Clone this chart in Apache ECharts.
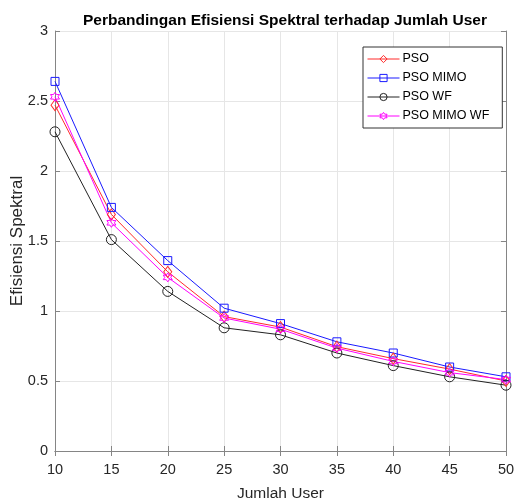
<!DOCTYPE html>
<html>
<head>
<meta charset="utf-8">
<script src="https://cdn.jsdelivr.net/npm/echarts@6/dist/echarts.min.js"></script>
<style>
  html, body { margin: 0; padding: 0; background: #fff; }
  #chart { width: 514px; height: 504px; }
</style>
</head>
<body>
<div id="chart"></div>
<script>
// data
var users = [10, 15, 20, 25, 30, 35, 40, 45, 50];
var pso = [2.47, 1.69, 1.28, 0.96, 0.885, 0.745, 0.66, 0.585, 0.50];
var psoMimo = [2.64, 1.74, 1.36, 1.02, 0.91, 0.78, 0.70, 0.60, 0.53];
var psoWf = [2.28, 1.51, 1.14, 0.88, 0.83, 0.70, 0.61, 0.53, 0.47];
var psoMimoWf = [2.53, 1.63, 1.24, 0.95, 0.87, 0.735, 0.64, 0.56, 0.51];
var seriesNames = ["PSO", "PSO MIMO", "PSO WF", "PSO MIMO WF"];

(function () {
  let mychart = echarts.init(document.getElementById("chart"));
  let font = "Liberation Sans, Arial, sans-serif";
  // bintang enam (hexagram)
  let hexagram = "path://M0,-10L2.887,-5L8.66,-5L5.774,0L8.66,5L2.887,5L0,10L-2.887,5L-8.66,5L-5.774,0L-8.66,-5L-2.887,-5Z";

  function pairs(ys) {
    return users.map(function (x, i) {
      return [x, ys[i]];
    });
  }

  function makeSeries(name, ys, color, symbol, size) {
    return {
      name: name,
      type: "line",
      data: pairs(ys),
      color: color,
      symbol: symbol,
      symbolSize: size,
      showAllSymbol: true,
      lineStyle: { color: color, width: 1 },
      itemStyle: { color: "rgba(255,255,255,0)", borderColor: color, borderWidth: 1 },
      emphasis: { disabled: true },
      animation: false,
    };
  }

  let axisLine = { show: true, lineStyle: { color: "#858585", width: 1 } };
  let tick = { show: true, inside: true, length: 5, lineStyle: { color: "#858585" } };

  let option = {
    backgroundColor: "#fff",
    title: {
      text: "Perbandingan Efisiensi Spektral terhadap Jumlah User",
      left: 280,
      textAlign: "center",
      top: 8,
      textStyle: { fontFamily: font, fontSize: 15.5, fontWeight: "bold", color: "#000" },
    },
    grid: { left: 55, right: 8, top: 31, bottom: 53, outerBoundsMode: "none", containLabel: false },
    legend: {
      orient: "vertical",
      left: 363,
      top: 47,
      itemWidth: 32,
      itemHeight: 9,
      itemGap: 5,
      padding: [5, 13, 5, 4],
      borderColor: "#333",
      borderWidth: 1,
      backgroundColor: "#fff",
      data: seriesNames,
      lineStyle: { width: 1 },
      itemStyle: { borderWidth: 1 },
      textStyle: { fontFamily: font, fontSize: 12.5, lineHeight: 14, color: "#000", padding: [0, 0, 0, -2] },
    },
    xAxis: [
      {
        type: "value",
        min: 10,
        max: 50,
        interval: 5,
        name: "Jumlah User",
        nameLocation: "middle",
        nameGap: 35,
        nameMoveOverlap: false,
        nameTextStyle: { fontFamily: font, fontSize: 15.5, color: "#262626" },
        axisLine: axisLine,
        axisTick: tick,
        axisLabel: { fontFamily: font, fontSize: 14.5, color: "#262626", margin: 11 },
        splitLine: { show: true, lineStyle: { color: "#e6e6e6" } },
      },
      {
        type: "value",
        position: "top",
        min: 10,
        max: 50,
        interval: 5,
        axisLine: axisLine,
        axisTick: tick,
        axisLabel: { show: false },
        splitLine: { show: false },
      },
    ],
    yAxis: [
      {
        type: "value",
        min: 0,
        max: 3,
        interval: 0.5,
        name: "Efisiensi Spektral",
        nameLocation: "middle",
        nameGap: 29,
        nameMoveOverlap: false,
        nameTextStyle: { fontFamily: font, fontSize: 17, color: "#262626" },
        axisLine: axisLine,
        axisTick: tick,
        axisLabel: { fontFamily: font, fontSize: 14.5, color: "#262626", margin: 7 },
        splitLine: { show: true, lineStyle: { color: "#e6e6e6" } },
      },
      {
        type: "value",
        position: "right",
        min: 0,
        max: 3,
        interval: 0.5,
        axisLine: axisLine,
        axisTick: tick,
        axisLabel: { show: false },
        splitLine: { show: false },
      },
    ],
    series: [
      makeSeries(seriesNames[0], pso, "#ff2a2a", "diamond", [8, 11]),
      makeSeries(seriesNames[1], psoMimo, "#1a1aff", "rect", 8),
      makeSeries(seriesNames[2], psoWf, "#222", "circle", 10),
      makeSeries(seriesNames[3], psoMimoWf, "#ff00ff", hexagram, 9),
    ],
  };
  mychart.setOption(option);
})();
</script>
</body>
</html>
